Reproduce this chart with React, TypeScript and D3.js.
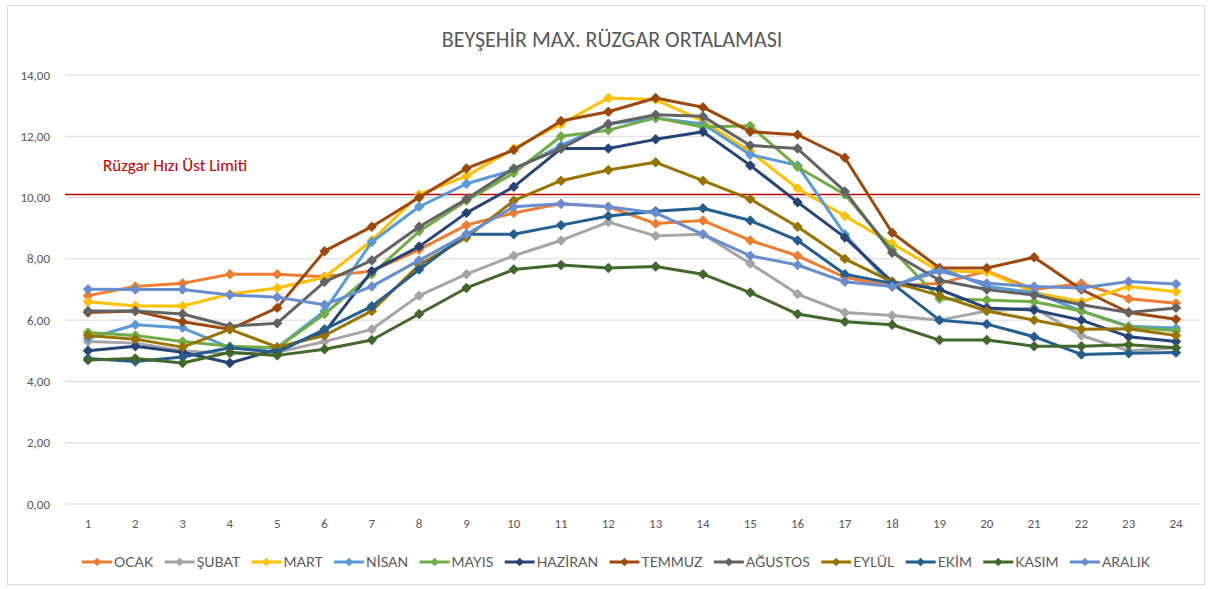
import { useEffect, useRef } from 'react';
import * as d3 from 'd3';

const hours = d3.range(1, 25);
const yTicks = [0, 2, 4, 6, 8, 10, 12, 14];
const limit = 10.1;

const ocak = [6.8, 7.1, 7.2, 7.5, 7.5, 7.42, 7.6, 8.3, 9.1, 9.5, 9.8, 9.7, 9.15, 9.25, 8.6, 8.1, 7.4, 7.1, 7.2, 7.6, 7.0, 7.2, 6.7, 6.55];
const subat = [5.3, 5.25, 5.0, 4.9, 4.95, 5.3, 5.7, 6.8, 7.5, 8.1, 8.6, 9.2, 8.75, 8.8, 7.85, 6.85, 6.25, 6.15, 6.0, 6.3, 6.4, 5.5, 5.0, 5.1];
const mart = [6.6, 6.46, 6.46, 6.85, 7.05, 7.4, 8.6, 10.1, 10.7, 11.6, 12.4, 13.25, 13.2, 12.5, 11.5, 10.3, 9.4, 8.5, 7.6, 7.58, 6.9, 6.6, 7.1, 6.93];
const nisan = [5.4, 5.85, 5.75, 5.1, 5.1, 6.3, 8.55, 9.7, 10.45, 10.9, 11.7, 12.4, 12.6, 12.4, 11.4, 11.05, 8.8, 7.1, 7.7, 7.1, 6.9, 6.3, 5.8, 5.74];
const mayis = [5.6, 5.5, 5.3, 5.15, 5.1, 6.2, 7.5, 8.9, 9.9, 10.8, 12.0, 12.2, 12.6, 12.3, 12.34, 11.0, 10.1, 8.3, 6.7, 6.66, 6.6, 6.3, 5.78, 5.65];
const haziran = [5.0, 5.15, 4.95, 4.6, 5.05, 5.6, 7.6, 8.4, 9.5, 10.35, 11.6, 11.6, 11.9, 12.15, 11.05, 9.85, 8.7, 7.25, 7.0, 6.4, 6.33, 6.0, 5.46, 5.3];
const temmuz = [6.25, 6.3, 5.95, 5.7, 6.4, 8.25, 9.05, 10.0, 10.95, 11.55, 12.5, 12.8, 13.25, 12.95, 12.15, 12.05, 11.3, 8.85, 7.7, 7.7, 8.05, 7.0, 6.25, 6.03];
const agustos = [6.3, 6.3, 6.2, 5.8, 5.9, 7.25, 7.95, 9.05, 9.95, 10.95, 11.6, 12.4, 12.7, 12.65, 11.7, 11.6, 10.2, 8.2, 7.3, 7.0, 6.82, 6.5, 6.25, 6.4];
const eylul = [5.5, 5.38, 5.12, 5.7, 5.12, 5.5, 6.3, 7.8, 8.7, 9.9, 10.55, 10.9, 11.15, 10.55, 9.95, 9.05, 8.0, 7.25, 6.8, 6.3, 6.0, 5.7, 5.72, 5.5];
const ekim = [4.75, 4.65, 4.8, 5.1, 4.95, 5.7, 6.45, 7.65, 8.8, 8.8, 9.1, 9.4, 9.55, 9.65, 9.25, 8.6, 7.5, 7.2, 6.0, 5.87, 5.46, 4.88, 4.92, 4.94];
const kasim = [4.7, 4.75, 4.6, 4.95, 4.85, 5.05, 5.35, 6.2, 7.05, 7.65, 7.8, 7.7, 7.75, 7.5, 6.9, 6.2, 5.95, 5.85, 5.35, 5.35, 5.15, 5.15, 5.2, 5.1];
const aralik = [7.01, 7.0, 7.0, 6.82, 6.75, 6.5, 7.1, 7.95, 8.8, 9.7, 9.8, 9.7, 9.5, 8.8, 8.1, 7.8, 7.25, 7.1, 7.6, 7.2, 7.1, 7.05, 7.26, 7.18];

const series = [
  { name: 'OCAK', values: ocak, color: '#ED7D31' },
  { name: 'ŞUBAT', values: subat, color: '#A5A5A5' },
  { name: 'MART', values: mart, color: '#FFC000' },
  { name: 'NİSAN', values: nisan, color: '#5B9BD5' },
  { name: 'MAYIS', values: mayis, color: '#70AD47' },
  { name: 'HAZİRAN', values: haziran, color: '#264478' },
  { name: 'TEMMUZ', values: temmuz, color: '#9E480E' },
  { name: 'AĞUSTOS', values: agustos, color: '#636363' },
  { name: 'EYLÜL', values: eylul, color: '#997300' },
  { name: 'EKİM', values: ekim, color: '#255E91' },
  { name: 'KASIM', values: kasim, color: '#43682B' },
  { name: 'ARALIK', values: aralik, color: '#698ED0' },
];

export default function App() {
  const svgRef = useRef<SVGSVGElement>(null);

  useEffect(() => {
    document.body.style.margin = '0';
    const W = 1213;
    const H = 589;
    const left = 65;
    const right = 1200;
    const font = 'Calibri, Carlito, "Open Sans", sans-serif';
    const narrow = '"Liberation Sans Narrow", "Arial Narrow", Lato, sans-serif';

    const svg = d3.select(svgRef.current);
    svg.selectAll('*').remove();
    svg.attr('width', W).attr('height', H);

    svg.append('rect').attr('width', W).attr('height', H).attr('fill', '#fff');
    svg
      .append('rect')
      .attr('x', 7.5)
      .attr('y', 5.5)
      .attr('width', 1197)
      .attr('height', 579)
      .attr('fill', 'none')
      .attr('stroke', '#d9d9d9');

    const x = d3.scalePoint<number>().domain(hours).range([88, 1176]);
    const y = d3.scaleLinear().domain([0, 14]).range([504, 75]);

    // title
    svg
      .append('text')
      .attr('x', 612)
      .attr('y', 47)
      .attr('text-anchor', 'middle')
      .style('font-family', font)
      .style('font-size', '22px')
      .style('fill', '#595959')
      .text('BEYŞEHİR MAX. RÜZGAR ORTALAMASI');

    // grid + y labels
    const grid = svg.append('g');
    yTicks.forEach((t) => {
      grid
        .append('line')
        .attr('x1', left)
        .attr('x2', right)
        .attr('y1', y(t))
        .attr('y2', y(t))
        .attr('stroke', '#d9d9d9')
        .attr('stroke-width', 1);
      grid
        .append('text')
        .attr('x', 50)
        .attr('y', y(t))
        .attr('dy', '0.35em')
        .attr('text-anchor', 'end')
        .style('font-family', font)
        .style('font-size', '13px')
        .style('fill', '#595959')
        .text(d3.format('.2f')(t).replace('.', ','));
    });

    // x labels
    hours.forEach((h) => {
      svg
        .append('text')
        .attr('x', x(h)!)
        .attr('y', 528)
        .attr('text-anchor', 'middle')
        .style('font-family', font)
        .style('font-size', '13px')
        .style('fill', '#595959')
        .text(h);
    });

    // limit line
    svg
      .append('line')
      .attr('x1', left)
      .attr('x2', right)
      .attr('y1', y(limit))
      .attr('y2', y(limit))
      .attr('stroke', '#C00000')
      .attr('stroke-width', 1.3);
    svg
      .append('text')
      .attr('x', 103)
      .attr('y', 171)
      .style('font-family', font)
      .style('font-size', '17px')
      .style('fill', '#C00000')
      .text('Rüzgar Hızı Üst Limiti');

    const line = d3
      .line<number>()
      .x((_, i) => x(hours[i])!)
      .y((d) => y(d));

    const diamond = d3.symbol().type(d3.symbolDiamond2).size(45);

    series.forEach((s) => {
      const g = svg.append('g');
      g.append('path')
        .attr('d', line(s.values))
        .attr('fill', 'none')
        .attr('stroke', s.color)
        .attr('stroke-width', 3)
        .attr('stroke-linejoin', 'round');
      g.selectAll('path.m')
        .data(s.values)
        .enter()
        .append('path')
        .attr('class', 'm')
        .attr('d', diamond()!)
        .attr('transform', (d, i) => `translate(${x(hours[i])},${y(d)})`)
        .attr('fill', s.color)
        .attr('stroke', s.color)
        .attr('stroke-width', 1.5)
        .attr('stroke-linejoin', 'round');
    });

    // legend, spread from 82 to 1150
    const legend = svg.append('g').attr('transform', 'translate(82,562)');
    const items = series.map((s) => {
      const item = legend.append('g');
      item
        .append('line')
        .attr('x1', 0)
        .attr('x2', 30)
        .attr('stroke', s.color)
        .attr('stroke-width', 3);
      item.append('path').attr('d', diamond()!).attr('transform', 'translate(15,0)').attr('fill', s.color);
      const t = item
        .append('text')
        .attr('x', 32)
        .attr('dy', '0.35em')
        .style('font-family', narrow)
        .style('font-size', '14px')
        .style('fill', '#595959')
        .text(s.name);
      const w = (t.node() as SVGTextElement).getComputedTextLength();
      return { item, w: 32 + w };
    });
    const sum = d3.sum(items, (d) => d.w);
    const gap = (1150 - 82 - sum) / (items.length - 1);
    let cx = 0;
    items.forEach((d) => {
      d.item.attr('transform', `translate(${cx},0)`);
      cx += d.w + gap;
    });
  }, []);

  return <svg ref={svgRef}></svg>;
}
